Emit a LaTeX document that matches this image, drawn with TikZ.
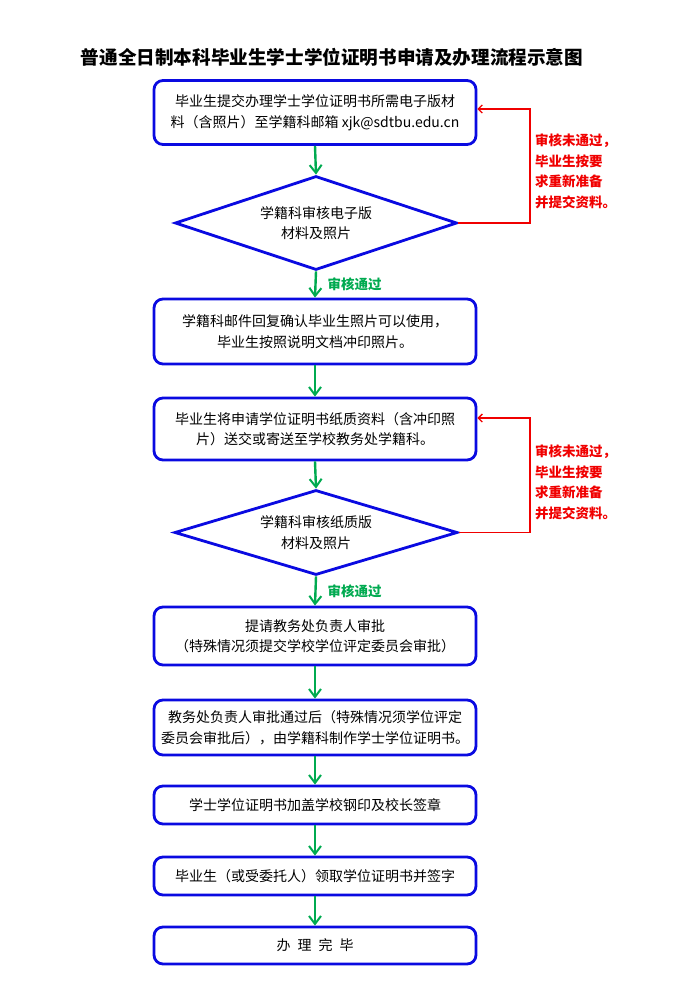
\documentclass[tikz,border=0pt]{standalone}
\usepackage{fontspec}
\setmainfont{Noto Sans CJK SC}
\usetikzlibrary{shapes.geometric,arrows.meta}
\definecolor{boxBlue}{RGB}{10,10,225}
\definecolor{passGreen}{RGB}{0,170,80}
\definecolor{failRed}{RGB}{240,0,0}
\begin{document}
\begin{tikzpicture}[
  x=1pt, y=-1pt,
  procBox/.style={draw=boxBlue, line width=2.8pt, rounded corners=9pt,
    minimum width=322pt, align=center, fill=white,
    font=\fontsize{14}{20.5}\selectfont},
  checkDiamond/.style={draw=boxBlue, line width=2.8pt, shape=diamond, aspect=3,
    inner sep=0pt, align=center, fill=white,
    font=\fontsize{14}{20.5}\selectfont},
  passArrow/.style={draw=passGreen, line width=2.4pt,
    -{Straight Barb[length=8pt,width=12pt,line width=2pt]}},
  failArrow/.style={draw=failRed, line width=1.5pt,
    -{Straight Barb[length=4pt,width=8pt,line width=1.3pt]}},
  passLabel/.style={text=passGreen, font=\fontsize{13.5}{16}\selectfont\bfseries,
    inner sep=0pt, right, xshift=11pt},
  failLabel/.style={text=failRed, font=\fontsize{13.5}{20.5}\selectfont\bfseries,
    align=left, inner sep=0pt, anchor=west}
]
\useasboundingbox (0,0) rectangle (674,1004);

\node[font=\fontsize{18.6}{24}\selectfont\bfseries] (title) at (332,57)
  {普通全日制本科毕业生学士学位证明书申请及办理流程示意图};

% steps
\node[procBox, minimum height=64pt] (b1) at (315,112.5)
  {毕业生提交办理学士学位证明书所需电子版材\\料（含照片）至学籍科邮箱 xjk@sdtbu.edu.cn};
\node[checkDiamond, minimum width=282pt, minimum height=94pt] (d1) at (316,223)
  {学籍科审核电子版\\材料及照片};
\node[procBox, minimum height=65pt] (b2) at (315,331.5)
  {学籍科邮件回复确认毕业生照片可以使用，\\毕业生按照说明文档冲印照片。};
\node[procBox, minimum height=62pt] (b3) at (315,429)
  {毕业生将申请学位证明书纸质资料（含冲印照\\片）送交或寄送至学校教务处学籍科。};
\node[checkDiamond, minimum width=283pt, minimum height=85pt] (d2) at (316,532.5)
  {学籍科审核纸质版\\材料及照片};
\node[procBox, minimum height=58pt] (b4) at (315,636)
  {提请教务处负责人审批\\（特殊情况须提交学校学位评定委员会审批）};
\node[procBox, minimum height=55pt] (b5) at (315,727.5)
  {教务处负责人审批通过后（特殊情况须学位评定\\委员会审批后），由学籍科制作学士学位证明书。};
\node[procBox, minimum height=38pt] (b6) at (315,805)
  {学士学位证明书加盖学校钢印及校长签章};
\node[procBox, minimum height=38pt] (b7) at (315,876)
  {毕业生（或受委托人）领取学位证明书并签字};
\node[procBox, minimum height=37pt] (b8) at (315,945.5)
  {办\hspace{0.5em}理\hspace{0.5em}完\hspace{0.5em}毕};

% forward arrows
\foreach \a/\b in {b1/d1,b2/b3,b3/d2,b4/b5,b5/b6,b6/b7,b7/b8}
  \draw[passArrow] (\a.south) -- (\b.north);
\draw[passArrow] (d1.south) -- node[passLabel] (pass1) {审核通过} (b2.north);
\draw[passArrow] (d2.south) -- node[passLabel] (pass2) {审核通过} (b4.north);

% return loops
\coordinate (r1) at (530,109);
\coordinate (r2) at (530,418);
\draw[failArrow] (d1.east) -| (r1) -- (b1.east |- r1);
\draw[failArrow] (d2.east) -| (r2) -- (b3.east |- r2);
\node[failLabel] (fail1) at (535,171.5) {审核未通过，\\毕业生按要\\求重新准备\\并提交资料。};
\node[failLabel] (fail2) at (535,482.5) {审核未通过，\\毕业生按要\\求重新准备\\并提交资料。};
\end{tikzpicture}
\end{document}
